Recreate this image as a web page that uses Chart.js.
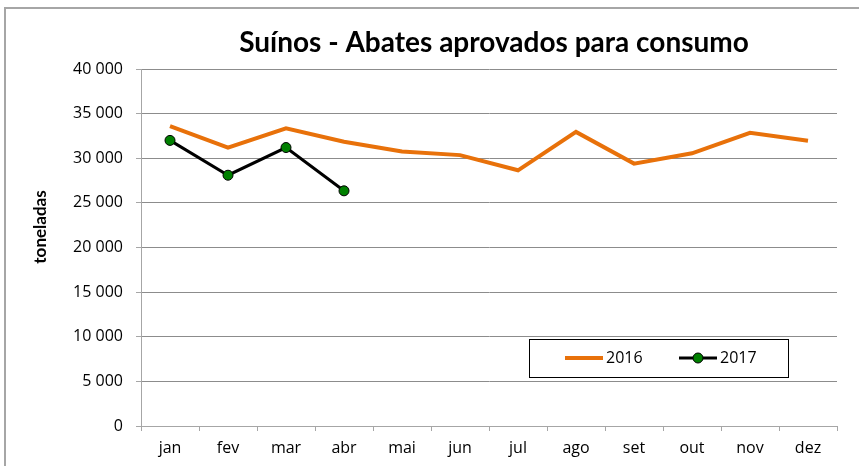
<!DOCTYPE html>
<html>
<head>
<meta charset="utf-8">
<script src="https://cdn.jsdelivr.net/npm/chart.js@4/dist/chart.umd.min.js"></script>
<style>
    html, body { margin: 0; padding: 0; background: #fff; }
    #wrap { width: 859px; height: 466px; position: relative; }
</style>
</head>
<body>
<div id="wrap"><canvas id="abatesChart"></canvas></div>
<script>
const months = ['jan', 'fev', 'mar', 'abr', 'mai', 'jun', 'jul', 'ago', 'set', 'out', 'nov', 'dez'];
const values2016 = [33600, 31200, 33350, 31850, 30750, 30350, 28650, 32950, 29400, 30550, 32850, 31950];
const values2017 = [32000, 28100, 31200, 26350];
const seriesNames = ['2016', '2017'];
const chartTitle = 'Suínos - Abates aprovados para consumo';
const yTitle = 'toneladas';

const TITLE_FONT = 'Lato, "Open Sans", sans-serif';
const FONT = '"Open Sans", Lato, sans-serif';

// frame, title, axis title and the boxed legend inside the plot
const decorations = {
    id: 'decorations',
    beforeDraw(chart) {
        const c = chart.ctx;
        c.save();
        c.fillStyle = '#fff';
        c.fillRect(0, 0, chart.width, chart.height);
        c.strokeStyle = '#a6a6a6';
        c.lineWidth = 2;
        c.beginPath();
        c.moveTo(5, chart.height);
        c.lineTo(5, 8);
        c.lineTo(chart.width, 8);
        c.stroke();
        c.restore();
    },
    afterDraw(chart) {
        const c = chart.ctx;
        c.save();
        c.fillStyle = '#000';
        c.textAlign = 'center';
        c.textBaseline = 'middle';
        c.font = 'bold 28px ' + TITLE_FONT;
        c.fillText(chartTitle, 494, 43);

        c.translate(41, 227);
        c.rotate(-Math.PI / 2);
        c.font = 'bold 17px ' + TITLE_FONT;
        c.fillText(yTitle, 0, 0);
        c.restore();

        // legend
        const ds = chart.data.datasets;
        c.save();
        c.fillStyle = '#fff';
        c.fillRect(529.5, 339.5, 259, 38);
        c.strokeStyle = '#000';
        c.lineWidth = 1;
        c.strokeRect(529.5, 339.5, 259, 38);
        const ly = 358;
        const items = [{ x: 565, ds: ds[0] }, { x: 679, ds: ds[1] }];
        items.forEach(it => {
            c.strokeStyle = it.ds.borderColor;
            c.lineWidth = it.ds.borderWidth;
            c.beginPath();
            c.moveTo(it.x, ly);
            c.lineTo(it.x + 38, ly);
            c.stroke();
            if (it.ds.pointRadius > 0) {
                c.beginPath();
                c.arc(it.x + 19, ly, it.ds.pointRadius, 0, Math.PI * 2);
                c.fillStyle = it.ds.pointBackgroundColor;
                c.fill();
                c.lineWidth = 1;
                c.strokeStyle = it.ds.pointBorderColor;
                c.stroke();
            }
            c.fillStyle = '#000';
            c.font = '16px ' + FONT;
            c.textAlign = 'left';
            c.textBaseline = 'middle';
            c.fillText(it.ds.label, it.x + 41, ly);
        });
        c.restore();
    }
};

const ctx = document.getElementById('abatesChart').getContext('2d');

new Chart(ctx, {
    type: 'line',
    data: {
        labels: months,
        datasets: [{
            label: seriesNames[0],
            data: values2016,
            borderColor: '#e8710a',
            borderWidth: 4,
            pointRadius: 0,
            tension: 0
        }, {
            label: seriesNames[1],
            data: values2017,
            borderColor: '#000',
            borderWidth: 3,
            pointRadius: 5,
            pointBackgroundColor: '#008000',
            pointBorderColor: '#000',
            pointBorderWidth: 1,
            tension: 0
        }]
    },
    options: {
        responsive: true,
        maintainAspectRatio: false,
        animation: false,
        layout: {
            padding: { top: 69, right: 22, left: 0, bottom: 0 }
        },
        plugins: {
            legend: { display: false },
            title: { display: false },
            tooltip: { enabled: false }
        },
        scales: {
            x: {
                offset: true,
                afterFit: s => { s.height = 40; },
                grid: {
                    offset: true,
                    drawOnChartArea: false,
                    drawTicks: true,
                    tickLength: 5,
                    color: '#a6a6a6'
                },
                border: { color: '#a6a6a6', width: 1 },
                ticks: {
                    color: '#000',
                    padding: 8,
                    font: { family: FONT, size: 16 }
                }
            },
            y: {
                min: 0,
                max: 40000,
                afterFit: s => { s.width = 141; },
                grid: {
                    color: '#8c8c8c',
                    tickLength: 5,
                    tickColor: '#a6a6a6'
                },
                border: { color: '#a6a6a6', width: 1 },
                ticks: {
                    stepSize: 5000,
                    color: '#000',
                    padding: 13,
                    font: { family: FONT, size: 16 },
                    callback: v => String(v).replace(/\B(?=(\d{3})+(?!\d))/g, ' ')
                }
            }
        }
    },
    plugins: [decorations]
});
</script>
</body>
</html>
